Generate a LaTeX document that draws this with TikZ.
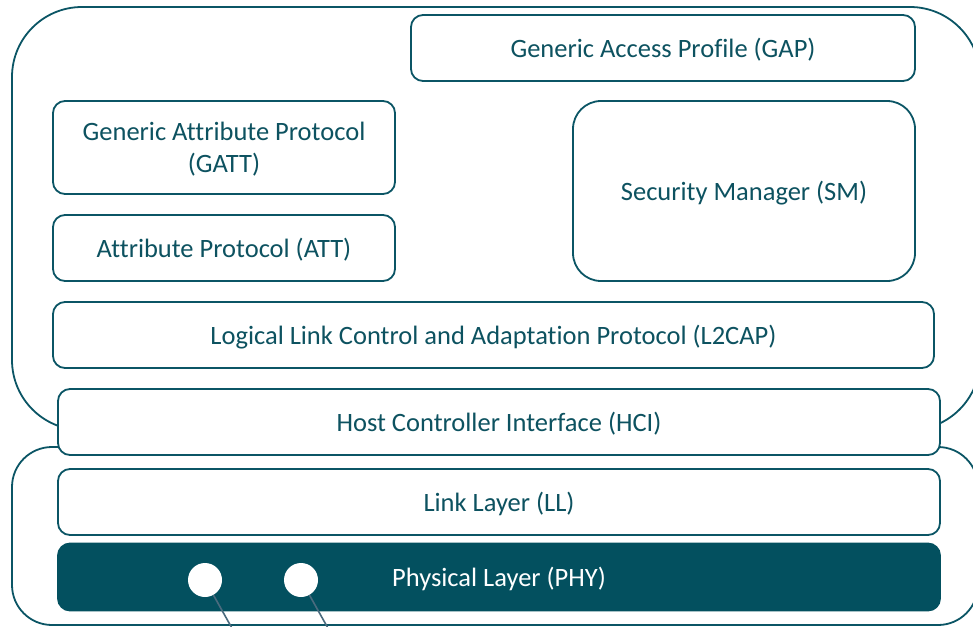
\documentclass[tikz,border=0pt]{standalone}
\usepackage{fontspec}
\setmainfont{Carlito}[RawFeature={-liga}]
\definecolor{teal1}{HTML}{0B5565}
\definecolor{phyfill}{HTML}{03505F}
\definecolor{txt}{HTML}{0D5260}
\definecolor{wire}{HTML}{4A6B7E}
\begin{document}
\begin{tikzpicture}[x=1pt,y=-1pt,
  layer/.style={draw=teal1, line width=1.8pt, fill=white, rounded corners=12pt,
    text=txt, font=\fontsize{26.5}{32}\selectfont, align=center, inner sep=0pt, text depth=0pt},
  container/.style={draw=teal1, line width=1.8pt, fill=white},
  port/.style={circle, fill=white, draw=none, minimum size=34pt, inner sep=0pt}
]
\useasboundingbox (0,0) rectangle (973,626);
\clip (0,0) rectangle (973,626);
% containers
\draw[container, rounded corners=70pt] (12,7) rectangle (980,430);
\draw[container, rounded corners=40pt] (12,447) rectangle (978,625);
% host layers
\node[layer, minimum width=504pt, minimum height=66pt] (gap) at (663,48) {Generic Access Profile (GAP)};
\node[layer, minimum width=342pt, minimum height=93pt] (gatt) at (224,147.5) {Generic Attribute Protocol\\(GATT)};
\node[layer, minimum width=342pt, minimum height=66pt] (att) at (224,248) {Attribute Protocol (ATT)};
\node[layer, rounded corners=28pt, minimum width=342pt, minimum height=180pt] (sm) at (744,191) {Security Manager (SM)};
\node[layer, minimum width=881pt, minimum height=66pt] (l2cap) at (493.5,335) {Logical Link Control and Adaptation Protocol (L2CAP)};
\node[layer, minimum width=882pt, minimum height=66pt] (hci) at (499,422) {Host Controller Interface (HCI)};
% controller layers
\node[layer, minimum width=882pt, minimum height=66pt] (ll) at (499,502) {Link Layer (LL)};
\node[layer, draw=phyfill, fill=phyfill, text=white, minimum width=882pt, minimum height=67pt] (phy) at (499,577) {Physical Layer (PHY)};
% ports
\node[port] (p1) at (205,580) {};
\node[port] (p2) at (301,580) {};
\coordinate (e1) at (233,630);
\coordinate (e2) at (329,630);
\draw[wire, line width=1.6pt] (p1) -- (e1);
\draw[wire, line width=1.6pt] (p2) -- (e2);
\end{tikzpicture}
\end{document}
